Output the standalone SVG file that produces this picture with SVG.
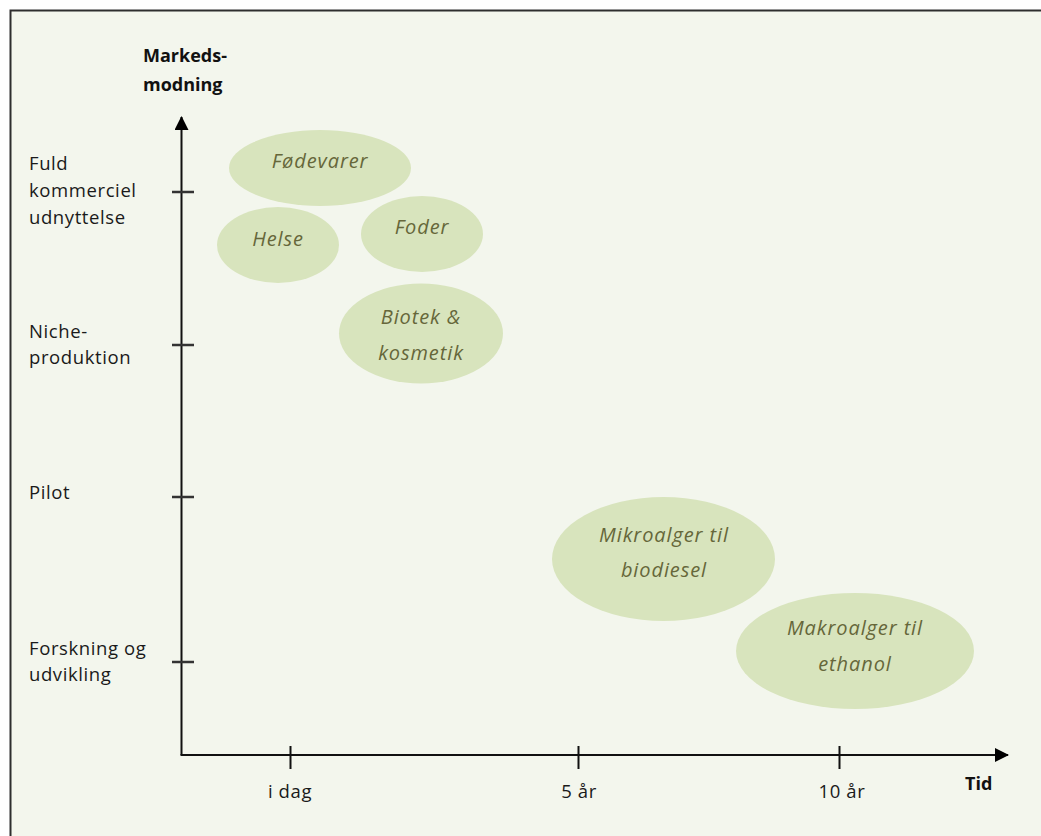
<svg xmlns="http://www.w3.org/2000/svg" width="1041" height="836" viewBox="0 0 1041 836">
<style>
.lbl{font-family:"Open Sans","Liberation Sans",sans-serif;font-size:18.5px;letter-spacing:0.6px;fill:#1a1a1a}
.ax{font-family:"Open Sans","Liberation Sans",sans-serif;font-size:18px;font-weight:bold;fill:#111}
.bub{fill:#d8e4bd;stroke:none}
.bt{font-family:"Open Sans","Liberation Sans",sans-serif;font-size:20px;letter-spacing:0.9px;font-style:italic;fill:#66673a;text-anchor:middle}
.axis{stroke:#111;stroke-width:2;fill:none}
.tick{stroke:#333;stroke-width:2.5;fill:none}
.xtick{stroke:#111;stroke-width:2;fill:none}
</style>
<defs>
<marker id="arr" viewBox="0 0 14 14" refX="13" refY="7" markerWidth="14" markerHeight="14" markerUnits="userSpaceOnUse" orient="auto">
<path d="M0,0 L14,7 L0,14 Z" fill="#000"/>
</marker>
</defs>
<rect x="0" y="0" width="1041" height="836" fill="#ffffff"/>
<rect x="10.5" y="10.5" width="1040" height="835" fill="#f3f6ed" stroke="#2e2e2e" stroke-width="2"/>
<g id="connectors">
<path class="axis" d="M181.5,755 L181.5,117" marker-end="url(#arr)"/>
<path class="axis" d="M180.5,755 L1008,755" marker-end="url(#arr)"/>
<path class="tick" d="M172,192 L194,192 M172,345 L194,345 M172,497 L194,497 M172,662 L194,662"/>
<path class="xtick" d="M290.5,746 L290.5,769 M578.5,746 L578.5,769 M839.5,746 L839.5,769"/>
</g>
<g id="axis-labels">
<text class="ax" x="143" y="62">Markeds-</text>
<text class="ax" x="143" y="91">modning</text>
<text class="ax" x="965" y="790">Tid</text>
<text class="lbl" x="29" y="170">Fuld</text>
<text class="lbl" x="29" y="197">kommerciel</text>
<text class="lbl" x="29" y="224">udnyttelse</text>
<text class="lbl" x="29" y="338">Niche-</text>
<text class="lbl" x="29" y="364">produktion</text>
<text class="lbl" x="29" y="499">Pilot</text>
<text class="lbl" x="29" y="655">Forskning og</text>
<text class="lbl" x="29" y="681">udvikling</text>
<text class="lbl" x="290" y="798" text-anchor="middle">i dag</text>
<text class="lbl" x="579" y="798" text-anchor="middle">5 år</text>
<text class="lbl" x="842" y="798" text-anchor="middle">10 år</text>
</g>
<g id="fodevarer">
<ellipse class="bub" cx="320" cy="168" rx="91" ry="38"/>
<text class="bt" x="320" y="168">Fødevarer</text>
</g>
<g id="helse">
<ellipse class="bub" cx="278" cy="245" rx="61" ry="38"/>
<text class="bt" x="278" y="246">Helse</text>
</g>
<g id="foder">
<ellipse class="bub" cx="422" cy="234" rx="61" ry="38"/>
<text class="bt" x="422" y="234">Foder</text>
</g>
<g id="biotek">
<ellipse class="bub" cx="421" cy="333.5" rx="82" ry="50"/>
<text class="bt" x="421" y="324">Biotek &amp;</text>
<text class="bt" x="421" y="360">kosmetik</text>
</g>
<g id="mikroalger">
<ellipse class="bub" cx="663.5" cy="559" rx="111.5" ry="62"/>
<text class="bt" x="664" y="542">Mikroalger til</text>
<text class="bt" x="664" y="577">biodiesel</text>
</g>
<g id="makroalger">
<ellipse class="bub" cx="855" cy="651" rx="119" ry="58"/>
<text class="bt" x="855" y="635">Makroalger til</text>
<text class="bt" x="855" y="671">ethanol</text>
</g>
</svg>
